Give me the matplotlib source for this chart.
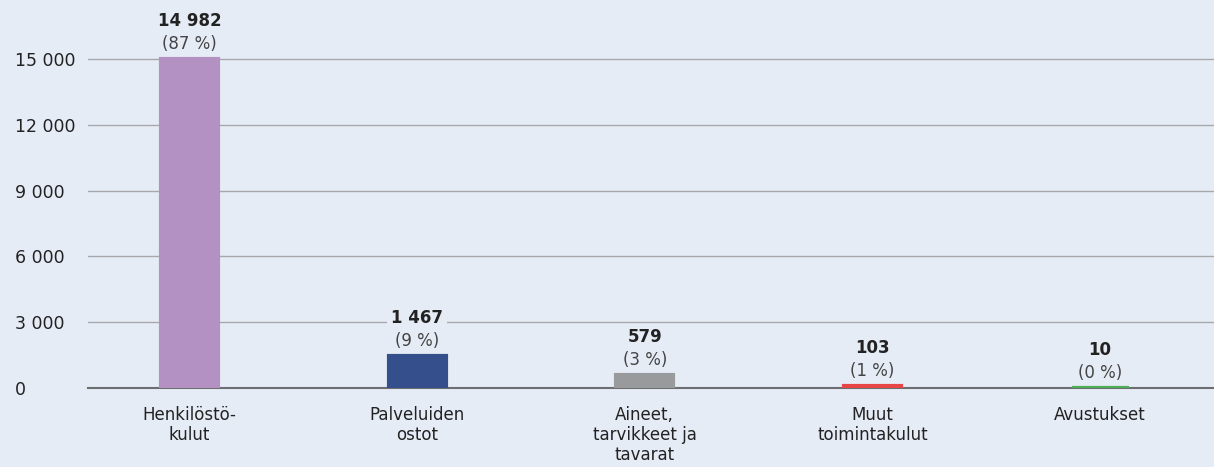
import matplotlib.pyplot as plt

categories = ["Henkilöstö-\nkulut", "Palveluiden\nostot", "Aineet,\ntarvikkeet ja\ntavarat",
              "Muut\ntoimintakulut", "Avustukset"]
values = [14982, 1467, 579, 103, 10]
value_labels = ["14 982", "1 467", "579", "103", "10"]
pct_labels = ["(87 %)", "(9 %)", "(3 %)", "(1 %)", "(0 %)"]
colors = ["#b392c3", "#344f8b", "#999a9c", "#e84646", "#4caf55"]
yticks = [0, 3000, 6000, 9000, 12000, 15000]
ytick_labels = ["0", "3 000", "6 000", "9 000", "12 000", "15 000"]

bg = "#e6ecf6"
plt.rcParams['font.family'] = ['DejaVu Sans']

fig = plt.figure(figsize=(12.14, 4.67), dpi=100, facecolor=bg)
ax = fig.add_axes([0.0725, 0.169, 0.9275, 0.831], facecolor=bg)

x = list(range(len(values)))
# thin outline in the bar colour keeps the tiny bars visible
ax.bar(x, values, width=0.25, color=colors, edgecolor=colors, linewidth=3, zorder=3)

for i, v in enumerate(values):
    ax.annotate(pct_labels[i], (i, v), xytext=(0, 4.5), textcoords="offset points",
                ha="center", va="bottom", fontsize=12, color="#444444", zorder=4,
                bbox=dict(boxstyle="square,pad=0.1", fc=bg, ec="none"))
    ax.annotate(value_labels[i], (i, v), xytext=(0, 21), textcoords="offset points",
                ha="center", va="bottom", fontsize=12, fontweight="bold", color="#222222",
                zorder=4, bbox=dict(boxstyle="square,pad=0.25", fc=bg, ec="none"))

ax.set_xlim(-0.445, 4.5)
ax.set_ylim(0, 17690)
ax.set_yticks(yticks)
ax.set_yticklabels(ytick_labels, ha="left")
ax.set_xticks(x)
ax.set_xticklabels(categories, linespacing=1.15)
ax.tick_params(axis="y", length=0, pad=52.5, labelsize=12.5, labelcolor="#222222")
ax.tick_params(axis="x", length=0, pad=13, labelsize=12, labelcolor="#222222")

ax.yaxis.grid(True, color="#a6a8ab", linewidth=1, zorder=0)
ax.set_axisbelow(True)
for s in ["top", "right", "left"]:
    ax.spines[s].set_visible(False)
ax.spines["bottom"].set_color("#6d6e71")
ax.spines["bottom"].set_linewidth(1.5)

fig.savefig("out.png", dpi=100, facecolor=bg)
